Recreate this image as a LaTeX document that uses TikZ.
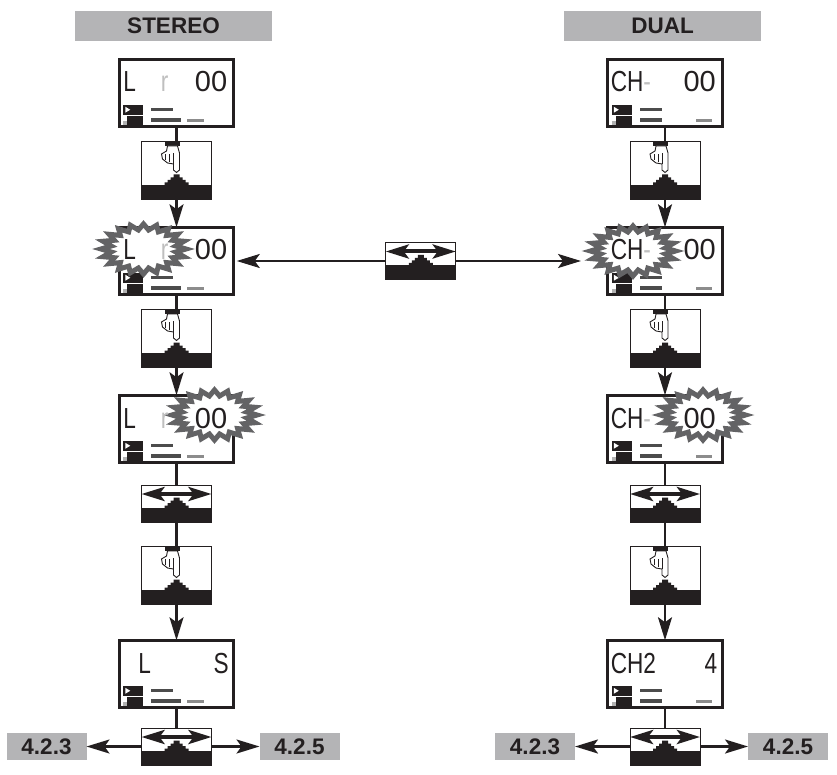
\documentclass[tikz,border=0pt]{standalone}
\usepackage{fontspec}
\setmainfont{Liberation Sans}
\newfontfamily\segfont[FakeStretch=0.78]{Liberation Sans}
\newfontfamily\digfont{Liberation Sans}
\usetikzlibrary{shapes.geometric,arrows.meta,positioning,calc}
\definecolor{ink}{HTML}{231F20}
\definecolor{tagfill}{HTML}{B4B4B6}
\definecolor{burstgray}{HTML}{636365}
\begin{document}
\begin{tikzpicture}[
  x=1pt, y=1pt,
  font=\fontsize{22.5}{22.5}\selectfont\bfseries, node distance=14pt and 48pt,
  stepbase/.pic={
    \fill[ink] (-36,-1) rectangle (36,14);
    \fill[ink] (-12,13) -- (-12,16.5) -- (-9,16.5) -- (-9,19) -- (-6,19) -- (-6,21.5) -- (-3,21.5) -- (-3,24.5) -- (3,24.5) -- (3,21.5) -- (6,21.5) -- (6,19) -- (9,19) -- (9,16.5) -- (12,16.5) -- (12,13) -- cycle;},
  handmark/.pic={
    \fill[ink] (-12,53) rectangle (3,58);
    \filldraw[fill=white,draw=ink,line width=0.9pt] (-9,53) -- (1,53) -- (3,46) -- (3,29) -- (0,26.5) -- (-3,29) -- (-3,35) -- (-9,36) -- (-14,40) -- (-15,45) -- (-10,48) -- cycle;
    \draw[ink,line width=0.7pt] (-3,35) -- (-3,46) (-7,37) -- (-7,45) (-11,39) -- (-11,45);},
  swapmark/.pic={
    \draw[{Stealth[length=23pt,width=14pt,inset=5pt]}-{Stealth[length=23pt,width=14pt,inset=5pt]},ink,line width=4pt] (-35,28) -- (35,28);},
  stereoinfo/.pic={
    \fill[ink] (4,12) rectangle (24,22);
    \fill[white] (6,14) -- (6,20) -- (11,17) -- cycle;
    \fill[ink] (8,2) rectangle (24,11);
    \fill[black!30] (4,2) rectangle (8,6);
    \fill[black!70] (32,16) rectangle (54,19);
    \fill[black!70] (32,5) rectangle (62,9);
    \fill[black!45] (68,5) rectangle (85,8);},
  dualinfo/.pic={
    \fill[ink] (4,12) rectangle (24,22);
    \fill[white] (6,14) -- (6,20) -- (11,17) -- cycle;
    \fill[ink] (8,2) rectangle (24,11);
    \fill[black!30] (4,2) rectangle (8,6);
    \fill[black!70] (32,16) rectangle (54,19);
    \fill[black!70] (32,5) rectangle (54,9);
    \fill[black!45] (88,5) rectangle (104,8);},
  lcd/.style={rectangle,draw=ink,line width=3pt,fill=white,minimum width=114.5pt,minimum height=67.5pt,inner sep=0pt,outer sep=0pt},
  stereolcd/.style={lcd,path picture={\pic at (path picture bounding box.south west) {stereoinfo};}},
  duallcd/.style={lcd,path picture={\pic at (path picture bounding box.south west) {dualinfo};}},
  handbtn/.style={rectangle,draw=ink,line width=0.8pt,fill=white,minimum width=70pt,minimum height=58pt,inner sep=0pt,outer sep=0pt,
    path picture={\pic at (path picture bounding box.south) {stepbase};\pic at (path picture bounding box.south) {handmark};}},
  swapbtn/.style={rectangle,draw=ink,line width=0.8pt,fill=white,minimum width=70pt,minimum height=37pt,inner sep=0pt,outer sep=0pt,
    path picture={\pic at (path picture bounding box.south) {swapmark};\pic at (path picture bounding box.south) {stepbase};}},
  tag/.style={rectangle,fill=tagfill,text=ink,minimum width=197pt,minimum height=30pt,inner sep=0pt,outer sep=0pt},
  ref/.style={rectangle,fill=tagfill,text=ink,minimum width=80pt,minimum height=27pt,inner sep=0pt,outer sep=0pt},
  burst/.style={star,star points=20,star point ratio=1.3,draw=burstgray,line width=5pt,fill=white,minimum size=50pt,inner sep=0pt,xscale=1.7,transform shape},
  seg/.style={font=\segfont\fontsize{29}{29}\selectfont,text=ink,inner sep=0pt,outer sep=0pt,text height=20pt,text depth=0pt},
  dig/.style={seg,font=\digfont\fontsize{29}{29}\selectfont},
  wire/.style={draw=ink,line width=2.3pt},
  arr/.style={-{Stealth[length=23pt,width=14pt,inset=5pt]},draw=ink,line width=2.3pt}]
\useasboundingbox (0,0) rectangle (837,-775);
% left column
\node[stereolcd] (lcdA) at (176.5,-93) {};
\node[tag, above=18pt of lcdA, xshift=-3pt] (tagS) {STEREO};
\node[handbtn, below=14.25pt of lcdA] (btnA) {};
\node[stereolcd, below=28.25pt of btnA] (lcdB) {};
\node[handbtn, below=14.25pt of lcdB] (btnB) {};
\node[stereolcd, below=28.25pt of btnB] (lcdC) {};
\node[swapbtn, below=22.25pt of lcdC] (btnC) {};
\node[handbtn, below=24pt of btnC] (btnD) {};
\node[stereolcd, below=36.25pt of btnD] (lcdD) {};
\node[swapbtn, below=20.25pt of lcdD] (btnE) {};
\node[ref, left=55pt of btnE] (refA) {4.2.3};
\node[ref, right=48pt of btnE] (refB) {4.2.5};
% right column
\node[duallcd] (lcdE) at (665,-93) {};
\node[tag, above=18pt of lcdE, xshift=-2.5pt] (tagD) {DUAL};
\node[handbtn, below=14.25pt of lcdE] (btnF) {};
\node[duallcd, below=28.25pt of btnF] (lcdF) {};
\node[handbtn, below=14.25pt of lcdF] (btnG) {};
\node[duallcd, below=28.25pt of btnG] (lcdG) {};
\node[swapbtn, below=22.25pt of lcdG] (btnH) {};
\node[handbtn, below=24pt of btnH] (btnI) {};
\node[duallcd, below=36.25pt of btnI] (lcdH) {};
\node[swapbtn, below=20.25pt of lcdH] (btnJ) {};
\node[ref, left=55pt of btnJ] (refC) {4.2.3};
\node[ref, right=48pt of btnJ] (refD) {4.2.5};
% middle
\node[swapbtn] (btnM) at ($(lcdB)!0.5!(lcdF)$) {};
% flashing parts
\node[xshift=-33pt, yshift=12pt, burst] (burstA) at (lcdB) {};
\node[xshift=38pt, yshift=14pt, burst] (burstB) at (lcdC) {};
\node[xshift=-32pt, yshift=10pt, burst] (burstC) at (lcdF) {};
\node[xshift=38pt, yshift=14pt, burst] (burstD) at (lcdG) {};
% display texts
\node[seg, right=4pt of lcdA.west, yshift=11pt] (txtA) {L\hspace{25pt}\textcolor{black!25}{r}};
\node[dig, left=6.5pt of lcdA.east, yshift=11pt] (valA) {00};
\node[seg, right=4pt of lcdB.west, yshift=11pt] (txtB) {L\hspace{25pt}\textcolor{black!25}{r}};
\node[dig, left=6.5pt of lcdB.east, yshift=11pt] (valB) {00};
\node[seg, right=4pt of lcdC.west, yshift=11pt] (txtC) {L\hspace{25pt}\textcolor{black!25}{r}};
\node[dig, left=6.5pt of lcdC.east, yshift=11pt] (valC) {00};
\node[seg, right=19pt of lcdD.west, yshift=11pt] (txtD) {L};
\node[seg, left=5pt of lcdD.east, yshift=11pt] (valD) {S};
\node[seg, right=3pt of lcdE.west, yshift=11pt] (txtE) {CH\textcolor{black!25}{-}};
\node[dig, left=6.5pt of lcdE.east, yshift=11pt] (valE) {00};
\node[seg, right=3pt of lcdF.west, yshift=11pt] (txtF) {CH\textcolor{black!25}{-}};
\node[dig, left=6.5pt of lcdF.east, yshift=11pt] (valF) {00};
\node[seg, right=3pt of lcdG.west, yshift=11pt] (txtG) {CH\textcolor{black!25}{-}};
\node[dig, left=6.5pt of lcdG.east, yshift=11pt] (valG) {00};
\node[seg, right=3pt of lcdH.west, yshift=11pt] (txtH) {CH2};
\node[seg, left=5pt of lcdH.east, yshift=11pt] (valH) {4};
% connectors
\draw[wire] (lcdA) -- (btnA);
\draw[arr] (btnA) -- (lcdB);
\draw[wire] (lcdB) -- (btnB);
\draw[arr] (btnB) -- (lcdC);
\draw[wire] (lcdC) -- (btnC);
\draw[wire] (btnC) -- (btnD);
\draw[arr] (btnD) -- (lcdD);
\draw[wire] (lcdD) -- (btnE);
\draw[arr] (btnE) -- (refA);
\draw[arr] (btnE) -- (refB);
\draw[wire] (lcdE) -- (btnF);
\draw[arr] (btnF) -- (lcdF);
\draw[wire] (lcdF) -- (btnG);
\draw[arr] (btnG) -- (lcdG);
\draw[wire] (lcdG) -- (btnH);
\draw[wire] (btnH) -- (btnI);
\draw[arr] (btnI) -- (lcdH);
\draw[wire] (lcdH) -- (btnJ);
\draw[arr] (btnJ) -- (refC);
\draw[arr] (btnJ) -- (refD);
\draw[arr, shorten >=3pt] (btnM) -- (lcdB);
\draw[arr] (btnM.east) -- (btnM.east -| burstC.west);
\end{tikzpicture}
\end{document}
